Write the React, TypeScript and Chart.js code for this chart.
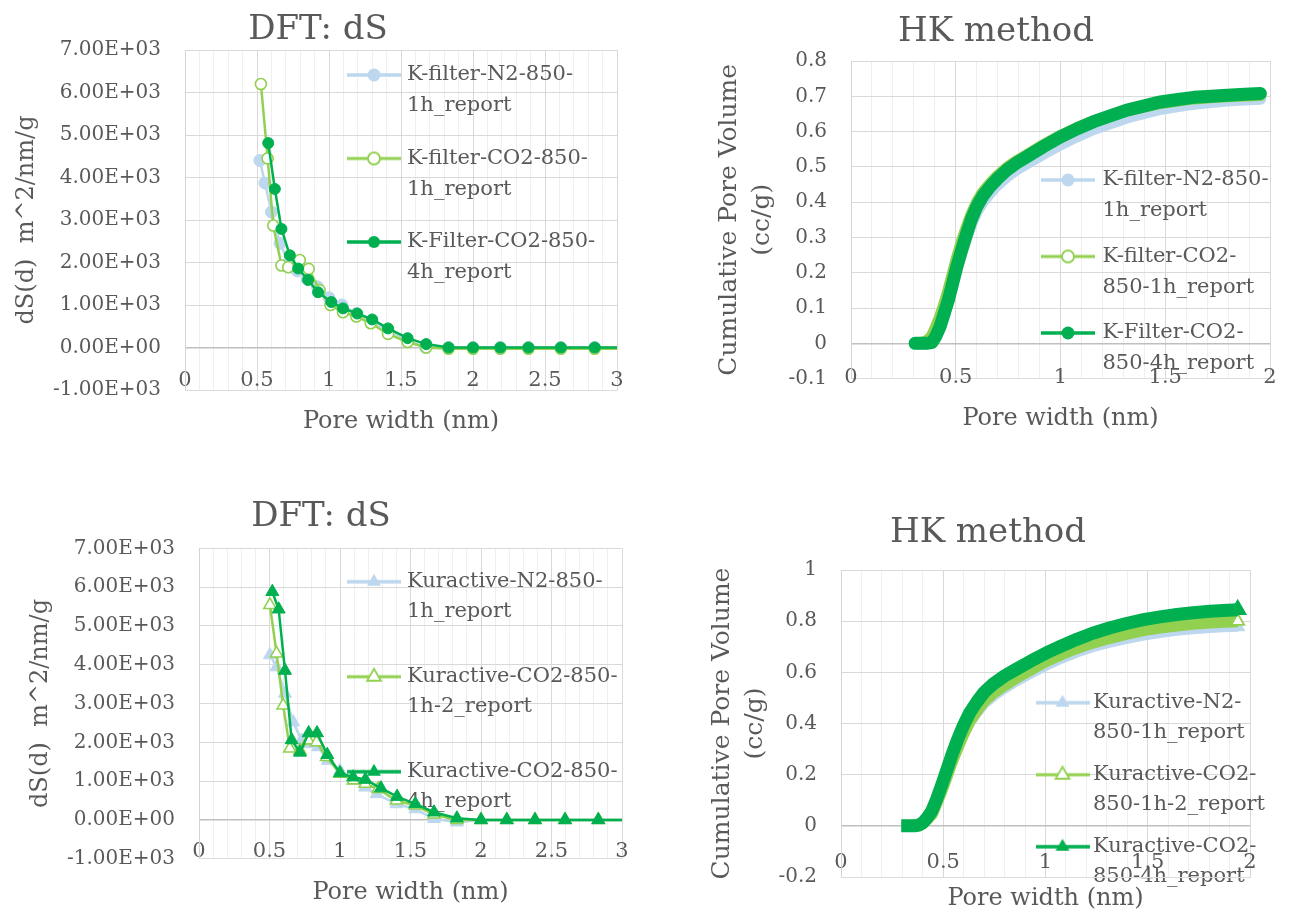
import React, { useEffect, useRef } from 'react';
import { Chart, registerables } from 'chart.js';
Chart.register(...registerables);

const FONT = "'DejaVu Serif', 'Liberation Serif', serif";
const TEXT = '#595959';
const BLUE = '#BDD7EE';
const LGREEN = '#92D050';
const DGREEN = '#00B050';

// ---------- Top-left: K-filter, DFT dS ----------
const kfDftN2X = [0.52, 0.555, 0.6, 0.66, 0.72, 0.78, 0.85, 0.92, 1.0, 1.09, 1.19, 1.3, 1.41, 1.54, 1.67, 1.83, 2.0, 2.19, 2.385, 2.61, 2.845, 3.1];
const kfDftN2Y = [4400, 3870, 3190, 2450, 2000, 1800, 1600, 1430, 1170, 1000, 800, 610, 410, 180, 0, 0, 0, 0, 0, 0, 0, 0];
const kfDftCO2aX = [0.527, 0.574, 0.613, 0.67, 0.717, 0.797, 0.859, 0.935, 1.01, 1.097, 1.19, 1.29, 1.41, 1.546, 1.675, 1.83, 2.0, 2.19, 2.385, 2.61, 2.845, 3.1];
const kfDftCO2aY = [6200, 4450, 2870, 1930, 1890, 2060, 1850, 1350, 1000, 830, 730, 570, 320, 130, 0, -30, -30, -30, -30, -30, -30, -30];
const kfDftCO2bX = [0.578, 0.624, 0.67, 0.728, 0.786, 0.855, 0.924, 1.016, 1.097, 1.196, 1.3, 1.41, 1.546, 1.675, 1.83, 2.0, 2.19, 2.385, 2.61, 2.845, 3.1];
const kfDftCO2bY = [4810, 3730, 2790, 2170, 1860, 1590, 1300, 1070, 920, 800, 660, 450, 220, 80, 0, 0, 0, 0, 0, 0, 0];

// ---------- Top-right: K-filter, HK method ----------
const kfHkX = [0.306, 0.33, 0.36, 0.386, 0.405, 0.425, 0.445, 0.465, 0.485, 0.505, 0.53, 0.553, 0.575, 0.6, 0.63, 0.664, 0.7, 0.744, 0.79, 0.84, 0.92, 1.0, 1.08, 1.158, 1.24, 1.317, 1.4, 1.477, 1.56, 1.636, 1.72, 1.795, 1.88, 1.954];
const kfHkN2 = [0, 0, 0, 0.003, 0.02, 0.045, 0.08, 0.12, 0.165, 0.21, 0.26, 0.302, 0.34, 0.373, 0.402, 0.427, 0.45, 0.473, 0.493, 0.51, 0.538, 0.564, 0.587, 0.607, 0.624, 0.64, 0.653, 0.664, 0.672, 0.679, 0.684, 0.688, 0.691, 0.693];
const kfHkCO2a = [0, 0, 0.005, 0.02, 0.045, 0.075, 0.11, 0.15, 0.195, 0.24, 0.29, 0.33, 0.365, 0.398, 0.428, 0.452, 0.474, 0.497, 0.516, 0.533, 0.562, 0.588, 0.61, 0.629, 0.645, 0.66, 0.671, 0.681, 0.688, 0.694, 0.697, 0.7, 0.702, 0.704];
const kfHkCO2b = [0, 0, 0, 0.002, 0.02, 0.047, 0.085, 0.123, 0.17, 0.217, 0.268, 0.312, 0.352, 0.387, 0.418, 0.444, 0.467, 0.491, 0.511, 0.529, 0.558, 0.585, 0.608, 0.628, 0.645, 0.661, 0.673, 0.684, 0.691, 0.697, 0.7, 0.703, 0.706, 0.708];

// ---------- Bottom-left: Kuractive, DFT dS ----------
const kuDftN2X = [0.503, 0.55, 0.61, 0.668, 0.727, 0.786, 0.845, 0.914, 1.0, 1.095, 1.178, 1.26, 1.4, 1.534, 1.667, 1.83, 2.0, 2.183, 2.383, 2.596, 2.832, 3.1];
const kuDftN2Y = [4250, 3940, 3260, 2520, 2050, 1960, 1880, 1530, 1270, 1020, 840, 670, 410, 280, 30, -60, 0, 0, 0, 0, 0, 0];
const kuDftCO2aX = [0.503, 0.55, 0.597, 0.644, 0.716, 0.775, 0.834, 0.905, 1.0, 1.095, 1.178, 1.27, 1.4, 1.534, 1.667, 1.829, 2.0, 2.183, 2.383, 2.596, 2.832, 3.1];
const kuDftCO2aY = [5540, 4290, 2950, 1840, 1790, 2050, 2000, 1620, 1190, 1020, 930, 800, 500, 370, 140, 0, 0, 0, 0, 0, 0, 0];
const kuDftCO2bX = [0.52, 0.565, 0.61, 0.657, 0.716, 0.778, 0.837, 0.91, 1.0, 1.093, 1.18, 1.29, 1.405, 1.534, 1.667, 1.829, 2.0, 2.183, 2.383, 2.596, 2.832, 3.1];
const kuDftCO2bY = [5880, 5430, 3850, 2060, 1740, 2240, 2240, 1680, 1210, 1100, 1040, 820, 600, 413, 198, 43, 0, 0, 0, 0, 0, 0];

// ---------- Bottom-right: Kuractive, HK method ----------
const kuHkX = [0.295, 0.33, 0.36, 0.38, 0.4, 0.42, 0.444, 0.468, 0.493, 0.518, 0.542, 0.57, 0.599, 0.63, 0.664, 0.7, 0.745, 0.8, 0.859, 0.93, 1.006, 1.08, 1.153, 1.23, 1.316, 1.4, 1.479, 1.56, 1.642, 1.72, 1.805, 1.87, 1.94];
const kuHkN2 = [0, 0, 0, 0.002, 0.011, 0.027, 0.05, 0.095, 0.145, 0.2, 0.255, 0.308, 0.357, 0.402, 0.44, 0.475, 0.506, 0.536, 0.565, 0.596, 0.627, 0.654, 0.677, 0.698, 0.716, 0.731, 0.744, 0.754, 0.762, 0.768, 0.773, 0.776, 0.778];
const kuHkCO2a = [0, 0, 0, 0.002, 0.01, 0.025, 0.045, 0.09, 0.14, 0.195, 0.25, 0.305, 0.36, 0.41, 0.45, 0.488, 0.52, 0.55, 0.58, 0.612, 0.645, 0.672, 0.695, 0.716, 0.735, 0.751, 0.765, 0.775, 0.783, 0.79, 0.795, 0.798, 0.8];
const kuHkCO2b = [0, 0, 0, 0.003, 0.012, 0.03, 0.058, 0.105, 0.161, 0.22, 0.277, 0.337, 0.393, 0.443, 0.484, 0.522, 0.555, 0.586, 0.613, 0.645, 0.677, 0.704, 0.729, 0.753, 0.774, 0.792, 0.806, 0.817, 0.826, 0.833, 0.839, 0.842, 0.845];

// ---------- Legend texts ----------
const kfDftLabels = [['K-filter-N2-850-', '1h_report'], ['K-filter-CO2-850-', '1h_report'], ['K-Filter-CO2-850-', '4h_report']];
const kfHkLabels = [['K-filter-N2-850-', '1h_report'], ['K-filter-CO2-', '850-1h_report'], ['K-Filter-CO2-', '850-4h_report']];
const kuDftLabels = [['Kuractive-N2-850-', '1h_report'], ['Kuractive-CO2-850-', '1h-2_report'], ['Kuractive-CO2-850-', '4h_report']];
const kuHkLabels = [['Kuractive-N2-', '850-1h_report'], ['Kuractive-CO2-', '850-1h-2_report'], ['Kuractive-CO2-', '850-4h_report']];

const pts = (xs: number[], ys: number[]) => xs.map((x, i) => ({ x, y: ys[i] }));
const isHalf = (v: number) => Math.abs(v * 2 - Math.round(v * 2)) < 1e-6;
const fmtX = (v: number) => (isHalf(v) ? String(Math.round(v * 10) / 10) : '');
const fmtDec = (v: number) => String(Math.round(v * 10) / 10);
const fmtSci = (v: number) => {
  if (Math.abs(v) < 1e-9) return '0.00E+00';
  const e = Math.floor(Math.log10(Math.abs(v)));
  const m = v / Math.pow(10, e);
  return m.toFixed(2) + 'E' + (e < 0 ? '-' : '+') + String(Math.abs(e)).padStart(2, '0');
};

function makeIcon(color: string, shape: 'circle' | 'triangle', hollow: boolean, lw: number, r: number) {
  const c = document.createElement('canvas');
  c.width = 54;
  c.height = 22;
  const g = c.getContext('2d')!;
  g.strokeStyle = color;
  g.lineWidth = lw;
  g.beginPath();
  g.moveTo(0, 11);
  g.lineTo(54, 11);
  g.stroke();
  g.beginPath();
  if (shape === 'circle') {
    g.arc(27, 11, r, 0, Math.PI * 2);
  } else {
    g.moveTo(27, 11 - r);
    g.lineTo(27 + r * 0.866, 11 + r * 0.5);
    g.lineTo(27 - r * 0.866, 11 + r * 0.5);
    g.closePath();
  }
  g.fillStyle = hollow ? '#ffffff' : color;
  g.fill();
  if (hollow) {
    g.lineWidth = 1.8;
    g.stroke();
  }
  return c;
}

const legendPlace = {
  id: 'legendPlace',
  afterLayout(chart: any, _args: any, opts: any) {
    const lg = chart.legend;
    if (!lg || opts == null || opts.left == null) return;
    lg.left = opts.left;
    lg.top = opts.top;
    lg.right = chart.width;
    lg.bottom = chart.height;
    lg.width = lg.right - lg.left;
    lg.height = lg.bottom - lg.top;
  },
};

function dftDs(label: string, xs: number[], ys: number[], color: string, hollow: boolean, shape: string, r: number, order: number) {
  return {
    label,
    data: pts(xs, ys),
    borderColor: color,
    backgroundColor: color,
    borderWidth: 2.5,
    pointStyle: shape,
    pointRadius: r,
    pointHoverRadius: r,
    pointBorderWidth: hollow ? 1.6 : 1,
    pointBackgroundColor: hollow ? '#ffffff' : color,
    pointBorderColor: color,
    order,
    tension: 0,
  };
}

function hkDs(label: string, xs: number[], ys: number[], color: string, width: number, cap: string, order: number, endShape?: string, endR?: number, hollow?: boolean) {
  const n = xs.length;
  return {
    label,
    data: pts(xs, ys),
    borderColor: color,
    backgroundColor: color,
    borderWidth: width,
    borderCapStyle: cap,
    borderJoinStyle: 'round',
    pointStyle: endShape || 'circle',
    pointRadius: (c: any) => (endShape && c.dataIndex === n - 1 ? endR : 0),
    pointHoverRadius: 0,
    pointBorderWidth: 1.8,
    pointBackgroundColor: hollow ? '#ffffff' : color,
    pointBorderColor: color,
    order,
    tension: 0,
  };
}

type PanelCfg = {
  left: number; top: number; width: number; height: number;
  padL: number; padR: number;
  title: string; titleTop: number; titleBottom: number;
  yWidth: number; xHeight: number;
  xMax: number; yMin: number; yMax: number; yStep: number; yFmt: (v: number) => string;
  yTitle: string | string[]; yTitleSize: number; yTitleLH: number; yTitlePad: number;
  xTitlePad: number; xTickPad: number;
  leg: { left: number; top: number; pad: number; lh: number; box: number };
  labels: string[][];
  icons: () => HTMLCanvasElement[];
  datasets: () => any[];
};

const panels: PanelCfg[] = [
  {
    left: 0, top: 0, width: 640, height: 450, padL: 19, padR: 23,
    title: 'DFT: dS', titleTop: 10.2, titleBottom: 0.2,
    yWidth: 166, xHeight: 60,
    xMax: 3, yMin: -1000, yMax: 7000, yStep: 1000, yFmt: fmtSci,
    yTitle: 'dS(d)  m^2/nm/g', yTitleSize: 24, yTitleLH: 1.2, yTitlePad: -6.4,
    xTitlePad: 13.6, xTickPad: -3.6,
    leg: { left: 330, top: 43, pad: 21.5, lh: 1.476, box: 45 },
    labels: kfDftLabels,
    icons: () => [makeIcon(BLUE, 'circle', false, 3.5, 6.5), makeIcon(LGREEN, 'circle', true, 3, 6), makeIcon(DGREEN, 'circle', false, 3.5, 6)],
    datasets: () => [
      dftDs('K-filter-N2-850-1h_report', kfDftN2X, kfDftN2Y, BLUE, false, 'circle', 6, 2),
      dftDs('K-filter-CO2-850-1h_report', kfDftCO2aX, kfDftCO2aY, LGREEN, true, 'circle', 5.5, 1),
      dftDs('K-Filter-CO2-850-4h_report', kfDftCO2bX, kfDftCO2bY, DGREEN, false, 'circle', 5.5, 0),
    ],
  },
  {
    left: 700, top: 0, width: 597, height: 450, padL: 22, padR: 27,
    title: 'HK method', titleTop: 12.2, titleBottom: 9.2,
    yWidth: 129, xHeight: 71.4,
    xMax: 2, yMin: -0.1, yMax: 0.8, yStep: 0.1, yFmt: fmtDec,
    yTitle: ['Cumulative Pore Volume', '(cc/g)'], yTitleSize: 25, yTitleLH: 1.32, yTitlePad: -9.5,
    xTitlePad: 16.6, xTickPad: -11.5,
    leg: { left: 329.5, top: 155, pad: 14.5, lh: 1.476, box: 48 },
    labels: kfHkLabels,
    icons: () => [makeIcon(BLUE, 'circle', false, 3.5, 6.5), makeIcon(LGREEN, 'circle', true, 3, 6), makeIcon(DGREEN, 'circle', false, 3.5, 6.5)],
    datasets: () => [
      hkDs('K-filter-N2-850-1h_report', kfHkX, kfHkN2, BLUE, 12, 'round', 2),
      hkDs('K-filter-CO2-850-1h_report', kfHkX, kfHkCO2a, LGREEN, 12, 'round', 1),
      hkDs('K-Filter-CO2-850-4h_report', kfHkX, kfHkCO2b, DGREEN, 13, 'round', 0),
    ],
  },
  {
    left: 0, top: 460, width: 645, height: 453, padL: 20, padR: 23,
    title: 'DFT: dS', titleTop: 37.2, titleBottom: 11.5,
    yWidth: 179, xHeight: 54.3,
    xMax: 3, yMin: -1000, yMax: 7000, yStep: 1000, yFmt: fmtSci,
    yTitle: 'dS(d)  m^2/nm/g', yTitleSize: 24, yTitleLH: 1.2, yTitlePad: 6.6,
    xTitlePad: 5.6, xTickPad: -5.9,
    leg: { left: 316.5, top: 76.2, pad: 35, lh: 1.429, box: 45 },
    labels: kuDftLabels,
    icons: () => [makeIcon(BLUE, 'triangle', false, 3.5, 8), makeIcon(LGREEN, 'triangle', true, 3, 8), makeIcon(DGREEN, 'triangle', false, 3.5, 8)],
    datasets: () => [
      dftDs('Kuractive-N2-850-1h_report', kuDftN2X, kuDftN2Y, BLUE, false, 'triangle', 7.5, 2),
      dftDs('Kuractive-CO2-850-1h-2_report', kuDftCO2aX, kuDftCO2aY, LGREEN, true, 'triangle', 7, 1),
      dftDs('Kuractive-CO2-850-4h_report', kuDftCO2bX, kuDftCO2bY, DGREEN, false, 'triangle', 7.5, 0),
    ],
  },
  {
    left: 700, top: 460, width: 580, height: 453, padL: 26, padR: 30,
    title: 'HK method', titleTop: 53.2, titleBottom: 17.2,
    yWidth: 115, xHeight: 33,
    xMax: 2, yMin: -0.2, yMax: 1, yStep: 0.2, yFmt: fmtDec,
    yTitle: ['Cumulative Pore Volume', '(cc/g)'], yTitleSize: 25, yTitleLH: 1.32, yTitlePad: -20.5,
    xTitlePad: -3, xTickPad: 2,
    leg: { left: 330.5, top: 220.2, pad: 12, lh: 1.429, box: 40 },
    labels: kuHkLabels,
    icons: () => [makeIcon(BLUE, 'triangle', false, 3.5, 8), makeIcon(LGREEN, 'triangle', true, 3, 8), makeIcon(DGREEN, 'triangle', false, 3.5, 8)],
    datasets: () => [
      hkDs('Kuractive-N2-850-1h_report', kuHkX, kuHkN2, BLUE, 10, 'butt', 2, 'triangle', 7),
      hkDs('Kuractive-CO2-850-1h-2_report', kuHkX, kuHkCO2a, LGREEN, 12, 'butt', 1, 'triangle', 7.5, true),
      hkDs('Kuractive-CO2-850-4h_report', kuHkX, kuHkCO2b, DGREEN, 13, 'butt', 0, 'triangle', 9),
    ],
  },
];

function buildConfig(p: PanelCfg): any {
  const icons = p.icons();
  return {
    type: 'line',
    data: { datasets: p.datasets() },
    options: {
      responsive: false,
      animation: false,
      events: [],
      layout: { padding: { left: p.padL, right: p.padR, top: 0, bottom: 0 } },
      plugins: {
        tooltip: { enabled: false },
        title: {
          display: true,
          text: p.title,
          color: TEXT,
          font: { family: FONT, size: 34, weight: 'normal', lineHeight: 1.165 },
          padding: { top: p.titleTop, bottom: p.titleBottom },
        },
        legend: {
          display: true,
          position: 'chartArea',
          align: 'start',
          labels: {
            color: TEXT,
            font: { family: FONT, size: 21, lineHeight: p.leg.lh },
            usePointStyle: true,
            pointStyleWidth: p.leg.box,
            padding: p.leg.pad,
            sort: (a: any, b: any) => a.datasetIndex - b.datasetIndex,
            generateLabels: (chart: any) => {
              const items = (Chart as any).defaults.plugins.legend.labels.generateLabels(chart);
              return items.map((it: any) => ({
                ...it,
                text: p.labels[it.datasetIndex],
                pointStyle: icons[it.datasetIndex],
                fontColor: TEXT,
              }));
            },
          },
        },
        legendPlace: { left: p.leg.left, top: p.leg.top },
      },
      scales: {
        x: {
          type: 'linear',
          min: 0,
          max: p.xMax,
          afterFit: (s: any) => { s.height = p.xHeight; },
          ticks: {
            stepSize: 0.1,
            maxTicksLimit: 1000,
            autoSkip: false,
            maxRotation: 0,
            minRotation: 0,
            mirror: true,
            padding: p.xTickPad,
            color: TEXT,
            font: { family: FONT, size: 21 },
            callback: (v: any) => fmtX(Number(v)),
          },
          grid: {
            drawTicks: false,
            lineWidth: 1,
            color: (c: any) => {
              const v = c.tick ? c.tick.value : 0;
              return isHalf(v) ? '#d9d9d9' : '#efefef';
            },
          },
          border: { display: true, color: '#dcdcdc', width: 1 },
          title: {
            display: true,
            text: 'Pore width (nm)',
            color: TEXT,
            font: { family: FONT, size: 24, lineHeight: 1.2 },
            padding: { top: 0, bottom: p.xTitlePad },
          },
        },
        y: {
          type: 'linear',
          min: p.yMin,
          max: p.yMax,
          afterFit: (s: any) => { s.width = p.yWidth; },
          ticks: {
            stepSize: p.yStep,
            maxTicksLimit: 1000,
            autoSkip: false,
            padding: 24,
            color: TEXT,
            font: { family: FONT, size: 20 },
            callback: (v: any) => p.yFmt(Number(v)),
          },
          grid: {
            drawTicks: false,
            color: (c: any) => (c.tick && Math.abs(c.tick.value) < 1e-9 ? '#bfbfbf' : '#d9d9d9'),
            lineWidth: (c: any) => (c.tick && Math.abs(c.tick.value) < 1e-9 ? 1.5 : 1),
          },
          border: { display: true, color: '#d4d4d4', width: 1 },
          title: {
            display: true,
            text: p.yTitle,
            color: TEXT,
            font: { family: FONT, size: p.yTitleSize, lineHeight: p.yTitleLH },
            padding: { top: p.yTitlePad, bottom: 0 },
          },
        },
      },
    },
    plugins: [legendPlace],
  };
}

function Panel({ cfg }: { cfg: PanelCfg }) {
  const ref = useRef<HTMLCanvasElement>(null);
  useEffect(() => {
    if (!ref.current) return;
    const chart = new Chart(ref.current, buildConfig(cfg));
    return () => chart.destroy();
  }, [cfg]);
  return (
    <canvas
      ref={ref}
      width={cfg.width}
      height={cfg.height}
      style={{ position: 'absolute', left: cfg.left, top: cfg.top, width: cfg.width, height: cfg.height }}
    />
  );
}

export default function App() {
  return (
    <div style={{ position: 'absolute', left: 0, top: 0, width: 1297, height: 913, background: '#ffffff', overflow: 'hidden' }}>
      {panels.map((p, i) => (
        <Panel key={i} cfg={p} />
      ))}
    </div>
  );
}
